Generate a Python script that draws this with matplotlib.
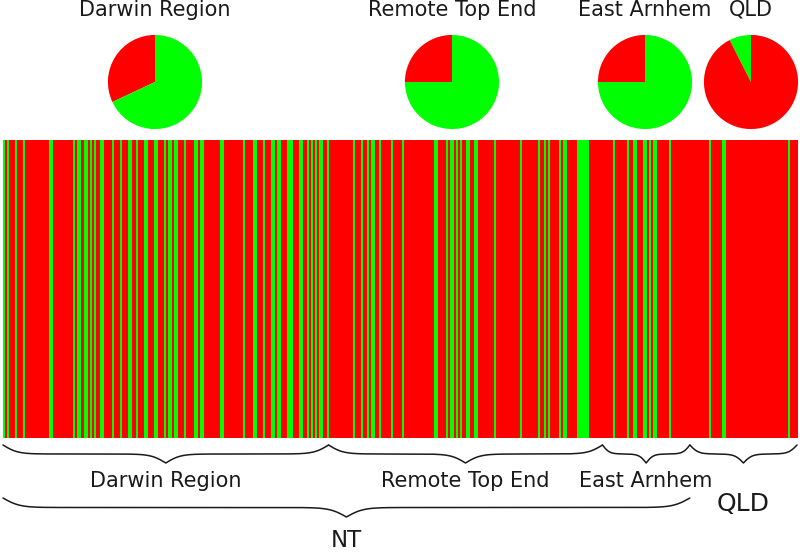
import numpy as np
import matplotlib
matplotlib.use("Agg")
import matplotlib.pyplot as plt
from matplotlib.colors import ListedColormap
from matplotlib.transforms import blended_transform_factory

# ---------------- data ----------------
regions = ["Darwin Region", "Remote Top End", "East Arnhem", "QLD"]
region_sizes = [164, 138, 44, 54]
# indices (within each region) of individuals assigned to the green cluster
green_darwin = [0, 2, 6, 10, 23, 24, 35, 37, 38, 41, 42, 44, 46, 49, 50, 55, 59, 63, 64,
                67, 71, 72, 76, 77, 81, 83, 84, 86, 87, 91, 96, 97, 99, 100, 109, 110, 121,
                126, 127, 131, 135, 136, 138, 139, 143, 144, 145, 149, 150, 153, 155, 157,
                159, 160, 163]
green_remote = [12, 16, 19, 21, 22, 25, 31, 37, 53, 54, 59, 61, 62, 64, 66, 69, 70, 73,
                74, 83, 96, 105, 108, 110, 116, 118, 119, 125, 126, 127, 128, 129, 130]
green_east_arnhem = [5, 12, 15, 16, 20, 21, 23, 25, 26, 33]
green_qld = [9, 16, 17, 49]
# pie proportions per region
pie_red = [0.32, 0.25, 0.25, 0.925]
pie_green = [0.68, 0.75, 0.75, 0.075]
# second-level grouping: (label, number of regions)
states = [("NT", 3), ("QLD", 1)]

RED = "#ff0000"
GREEN = "#00ff00"
TXT = "#1a1a1a"

W, H = 800, 552
fig = plt.figure(figsize=(W / 100, H / 100), dpi=100)


def fx(px):
    return px / W


def fy(py):
    return 1 - py / H


# ---------------- stripe plot ----------------
ax = fig.add_axes([fx(3), fy(438), (797 - 3) / W, (438 - 140) / H])
membership = np.zeros(sum(region_sizes), dtype=int)
start = 0
for size, greens in zip(region_sizes, [green_darwin, green_remote, green_east_arnhem, green_qld]):
    membership[start + np.array(greens, dtype=int)] = 1
    start += size
N = len(membership)
ax.imshow(membership[np.newaxis, :], aspect="auto", cmap=ListedColormap([RED, GREEN]),
          vmin=0, vmax=1, extent=(0, N, 0, 1), interpolation="nearest")
ax.set_xlim(0, N)
ax.set_ylim(0, 1)
ax.axis("off")

trans = blended_transform_factory(ax.transData, fig.transFigure)
units_per_px = N / (797 - 3)


def brace(x0, x1, y_end_px, y_mid_px, curl_px):
    n = 600
    xs = np.linspace(x0, x1, n + 1)
    half = xs[: n // 2 + 1]
    beta = 3.0 / (curl_px * units_per_px)
    s = 1 / (1 + np.exp(-beta * (half - half[0]))) + 1 / (1 + np.exp(-beta * (half - half[-1])))
    s = np.concatenate((s, s[-2::-1]))
    ypx = y_end_px + (s - 0.5) * (y_mid_px - y_end_px)
    ax.plot(xs, fy(ypx), transform=trans, color=TXT, lw=1.1, clip_on=False,
            solid_capstyle="round")


# first-level braces and labels
bounds = np.concatenate(([0], np.cumsum(region_sizes)))
for i, name in enumerate(regions):
    x0, x1 = bounds[i], bounds[i + 1]
    width_px = (x1 - x0) / units_per_px
    brace(x0, x1, 445, 463, min(22, width_px * 0.12))
    mid = (x0 + x1) / 2
    if name == "QLD":
        ax.text(mid, fy(511), name, transform=trans, ha="center", va="baseline",
                fontsize=18, color=TXT)
    else:
        ax.text(mid, fy(487), name, transform=trans, ha="center", va="baseline",
                fontsize=15, color=TXT)

# second-level brace (NT)
ri = 0
for label, count in states:
    x0, x1 = bounds[ri], bounds[ri + count]
    if count > 1:
        brace(x0, x1, 498, 517, 25)
        ax.text((x0 + x1) / 2, fy(547), label, transform=trans, ha="center",
                va="baseline", fontsize=16.5, color=TXT)
    ri += count

# ---------------- pies ----------------
pie_cx = [155, 452, 645, 751]
pie_cy = 82
pie_r = 48
for name, r, g, cx in zip(regions, pie_red, pie_green, pie_cx):
    pax = fig.add_axes([fx(cx - pie_r), fy(pie_cy + pie_r), 2 * pie_r / W, 2 * pie_r / H])
    vals = [r, g]
    cols = [RED, GREEN]
    order = np.argsort(vals)
    pax.pie([vals[k] for k in order], colors=[cols[k] for k in order], startangle=90,
            counterclock=True, radius=1, wedgeprops=dict(linewidth=0))
    pax.set_xlim(-1.02, 1.02)
    pax.set_ylim(-1.02, 1.02)
    pax.axis("off")
    fig.text(fx(cx), fy(16), name, ha="center", va="baseline", fontsize=15, color=TXT)

fig.savefig("out.png", dpi=100, facecolor="white")
